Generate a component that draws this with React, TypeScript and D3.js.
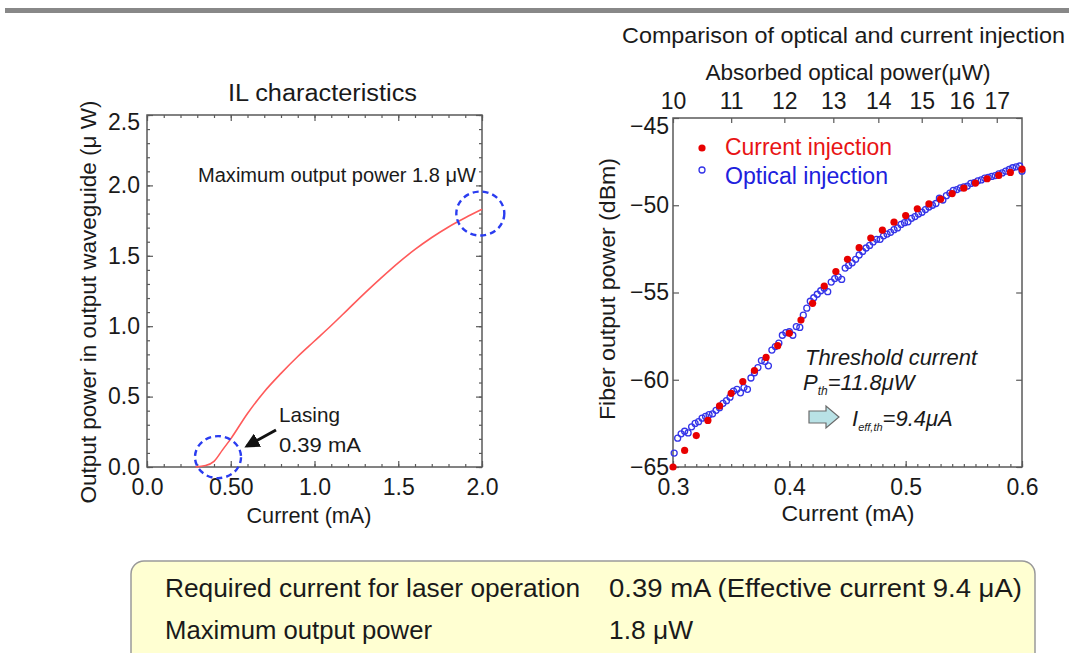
import React, { useEffect, useRef } from 'react'
import * as d3 from 'd3'

// IL curve (left)
const ilCurrent = [0.29, 0.35, 0.40, 0.45, 0.50, 0.60, 0.70, 0.80, 0.90, 1.00, 1.10, 1.20, 1.30, 1.40, 1.50, 1.60, 1.70, 1.80, 1.90, 2.00]
const ilPower = [0.0, 0.01, 0.04, 0.12, 0.20, 0.38, 0.535, 0.665, 0.785, 0.895, 1.005, 1.12, 1.235, 1.345, 1.45, 1.545, 1.63, 1.705, 1.77, 1.83]
const leftXTicks = [0, 0.5, 1.0, 1.5, 2.0]
const leftXTickLabels = ['0.0', '0.50', '1.0', '1.5', '2.0']
const leftYTicks = [0, 0.5, 1.0, 1.5, 2.0, 2.5]
const leftYTickLabels = ['0.0', '0.5', '1.0', '1.5', '2.0', '2.5']
const lasingSpot = [0.424, 0.07]
const maxSpot = [1.99, 1.80]

// current injection (red dots)
const currentInjX = [0.30, 0.31, 0.32, 0.33, 0.34, 0.35, 0.36, 0.37, 0.38, 0.39, 0.40, 0.41, 0.42, 0.43, 0.44, 0.45, 0.46, 0.47, 0.48, 0.49, 0.50, 0.51, 0.52, 0.53, 0.54, 0.55, 0.56, 0.57, 0.58, 0.59, 0.60]
const currentInjDbm = [-65.0, -64.05, -63.2, -62.33, -61.5, -60.78, -60.1, -59.47, -58.72, -58.05, -57.34, -56.58, -55.62, -54.63, -53.8, -53.1, -52.43, -51.88, -51.43, -50.97, -50.59, -50.2, -49.92, -49.65, -49.33, -49.02, -48.73, -48.48, -48.29, -48.12, -47.93]

// optical injection (blue open circles)
const opticalInjX = [0.301, 0.304, 0.307, 0.310, 0.313, 0.316, 0.319, 0.322, 0.325, 0.328, 0.331, 0.334, 0.337, 0.340, 0.343, 0.346, 0.349, 0.352, 0.355, 0.358, 0.361, 0.364, 0.367, 0.370, 0.373, 0.376, 0.379, 0.382, 0.385, 0.388, 0.391, 0.394, 0.397, 0.400, 0.403, 0.406, 0.409, 0.412, 0.415, 0.418, 0.421, 0.424, 0.427, 0.430, 0.433, 0.436, 0.439, 0.442, 0.445, 0.448, 0.451, 0.454, 0.457, 0.460, 0.463, 0.466, 0.469, 0.472, 0.475, 0.478, 0.481, 0.484, 0.487, 0.490, 0.493, 0.496, 0.499, 0.502, 0.505, 0.508, 0.511, 0.514, 0.517, 0.520, 0.523, 0.526, 0.529, 0.532, 0.535, 0.538, 0.541, 0.544, 0.547, 0.550, 0.553, 0.556, 0.559, 0.562, 0.565, 0.568, 0.571, 0.574, 0.577, 0.580, 0.583, 0.586, 0.589, 0.592, 0.595, 0.598, 0.600]
const opticalInjDbm = [-64.2, -63.35, -63.1, -62.95, -63.05, -62.7, -62.5, -62.4, -62.2, -62.1, -62.0, -61.95, -61.75, -61.6, -61.35, -61.2, -61.0, -60.65, -60.55, -60.75, -60.45, -60.55, -59.9, -59.6, -59.3, -58.9, -58.95, -59.2, -58.3, -58.1, -57.9, -57.45, -57.3, -57.25, -57.45, -56.95, -57.0, -56.3, -55.9, -55.5, -55.3, -55.1, -54.9, -54.75, -54.95, -54.4, -54.2, -54.1, -54.25, -53.6, -53.45, -53.3, -53.1, -52.85, -52.65, -52.45, -52.3, -52.1, -51.95, -51.95, -51.75, -51.65, -51.55, -51.4, -51.3, -51.1, -51.0, -50.95, -50.75, -50.65, -50.5, -50.4, -50.25, -50.1, -50.0, -49.9, -49.6, -49.7, -49.45, -49.3, -49.15, -49.1, -49.0, -48.95, -48.9, -48.75, -48.7, -48.6, -48.55, -48.45, -48.4, -48.35, -48.3, -48.2, -48.15, -48.05, -47.95, -47.85, -47.8, -47.75, -48.05]

const rightXTicks = [0.3, 0.4, 0.5, 0.6]
const rightXTickLabels = ['0.3', '0.4', '0.5', '0.6']
const rightYTicks = [-65, -60, -55, -50, -45]
const rightYTickLabels = ['−65', '−60', '−55', '−50', '−45']
const absorbedTicks = [10, 11, 12, 13, 14, 15, 16, 17]
const absorbedTickCurrent = [0.30, 0.35, 0.3957, 0.4378, 0.4765, 0.5138, 0.5482, 0.5783]

const FONT = '"Liberation Sans", Arial, sans-serif'
const FRAME = '#5a5a5a'

function App() {
  const ref = useRef<SVGSVGElement>(null)

  useEffect(() => {
    const svg = d3.select(ref.current)
    svg.selectAll('*').remove()

    const defs = svg.append('defs')
    defs.append('marker').attr('id', 'ah').attr('viewBox', '0 0 10 10')
      .attr('refX', 8).attr('refY', 5).attr('markerWidth', 5).attr('markerHeight', 5)
      .attr('orient', 'auto')
      .append('path').attr('d', 'M0,0 L10,5 L0,10 z').attr('fill', '#111')

    svg.append('rect').attr('width', 1069).attr('height', 653).attr('fill', '#fff')
    svg.append('rect').attr('x', 5).attr('y', 8).attr('width', 1064).attr('height', 5).attr('fill', '#888')

    const txt = (x: number, y: number, s: string, size: number, opts: any = {}) => {
      const t = svg.append('text').attr('x', x).attr('y', y).text(s)
        .attr('font-family', FONT).attr('font-size', size)
        .attr('fill', opts.fill || '#1a1a1a')
        .attr('text-anchor', opts.anchor || 'start')
      if (opts.len) t.attr('textLength', opts.len).attr('lengthAdjust', 'spacingAndGlyphs')
      if (opts.italic) t.attr('font-style', 'italic')
      if (opts.rotate) t.attr('transform', `rotate(-90,${x},${y})`)
      return t
    }

    const styleAxis = (g: any) => {
      g.select('.domain').remove()
      g.selectAll('line').attr('stroke', FRAME).attr('stroke-width', 1.2)
      g.selectAll('text').attr('font-family', FONT).attr('font-size', 23).attr('fill', '#1a1a1a')
    }

    // ---------- left chart ----------
    const L = { x0: 147, x1: 482, y0: 115, y1: 467 }
    const xL = d3.scaleLinear().domain([0, 2]).range([L.x0, L.x1])
    const yL = d3.scaleLinear().domain([0, 2.5]).range([L.y1, L.y0])
    const minorLX = d3.range(0, 2.001, 0.1)
    const minorLY = d3.range(0, 2.501, 0.1)

    const addMinor = (axis: any, vals: number[], tr: string) => {
      svg.append('g').attr('transform', tr)
        .call(axis.tickValues(vals).tickSizeInner(-3).tickSizeOuter(0).tickFormat(() => ''))
        .call(styleAxis)
    }
    addMinor(d3.axisBottom(xL), minorLX, `translate(0,${L.y1})`)
    addMinor(d3.axisTop(xL), minorLX, `translate(0,${L.y0})`)
    addMinor(d3.axisLeft(yL), minorLY, `translate(${L.x0},0)`)
    addMinor(d3.axisRight(yL), minorLY, `translate(${L.x1},0)`)

    svg.append('g').attr('transform', `translate(0,${L.y1})`)
      .call(d3.axisBottom(xL).tickValues(leftXTicks).tickSizeInner(-6).tickSizeOuter(0).tickPadding(12)
        .tickFormat((d, i) => leftXTickLabels[i]))
      .call(styleAxis)
    svg.append('g').attr('transform', `translate(0,${L.y0})`)
      .call(d3.axisTop(xL).tickValues(leftXTicks).tickSizeInner(-6).tickSizeOuter(0).tickFormat(() => ''))
      .call(styleAxis)
    const lyAx = svg.append('g').attr('transform', `translate(${L.x0},0)`)
      .call(d3.axisLeft(yL).tickValues(leftYTicks).tickSizeInner(-6).tickSizeOuter(0).tickPadding(7)
        .tickFormat((d, i) => leftYTickLabels[i]))
      .call(styleAxis)
    lyAx.selectAll('text').filter((d: any) => d === 2.5).attr('dy', '0.62em')
    svg.append('g').attr('transform', `translate(${L.x1},0)`)
      .call(d3.axisRight(yL).tickValues(leftYTicks).tickSizeInner(-6).tickSizeOuter(0).tickFormat(() => ''))
      .call(styleAxis)

    svg.append('rect').attr('x', L.x0).attr('y', L.y0).attr('width', L.x1 - L.x0).attr('height', L.y1 - L.y0)
      .attr('fill', 'none').attr('stroke', FRAME).attr('stroke-width', 1.5)

    const ilLine = d3.line<number>().x((d, i) => xL(ilCurrent[i])).y(d => yL(d)).curve(d3.curveMonotoneX)
    svg.append('path').attr('d', ilLine(ilPower)).attr('fill', 'none').attr('stroke', '#ff5a5a').attr('stroke-width', 1.6)

    svg.append('ellipse').attr('cx', xL(lasingSpot[0])).attr('cy', yL(lasingSpot[1])).attr('rx', 23).attr('ry', 21)
      .attr('fill', 'none').attr('stroke', '#2a3cf0').attr('stroke-width', 2.4).attr('stroke-dasharray', '6 4')
    svg.append('ellipse').attr('cx', xL(maxSpot[0])).attr('cy', yL(maxSpot[1])).attr('rx', 24).attr('ry', 22)
      .attr('fill', 'none').attr('stroke', '#2a3cf0').attr('stroke-width', 2.4).attr('stroke-dasharray', '6 4')

    svg.append('line').attr('x1', 276).attr('y1', 430).attr('x2', 247).attr('y2', 446)
      .attr('stroke', '#111').attr('stroke-width', 3).attr('marker-end', 'url(#ah)')

    txt(322.5, 101, 'IL characteristics', 23, { anchor: 'middle', len: 189 })
    txt(198, 182, 'Maximum output power 1.8 μW', 20, { len: 278 })
    txt(279, 422, 'Lasing', 21, { len: 61 })
    txt(279, 452, '0.39 mA', 21, { len: 82 })
    txt(309, 523, 'Current (mA)', 22, { anchor: 'middle', len: 125 })
    txt(96, 302, 'Output power in output waveguide (μ W)', 22, { anchor: 'middle', len: 403, rotate: true })

    // ---------- right chart ----------
    const R = { x0: 673, x1: 1022, y0: 118, y1: 467 }
    const xR = d3.scaleLinear().domain([0.3, 0.6]).range([R.x0, R.x1])
    const yR = d3.scaleLinear().domain([-65, -45]).range([R.y1, R.y0])
    const xAbs = d3.scaleLinear().domain(absorbedTicks).range(absorbedTickCurrent.map(c => xR(c)))

    addMinor(d3.axisBottom(xR), d3.range(0.3, 0.6001, 0.01), `translate(0,${R.y1})`)
    svg.append('g').attr('transform', `translate(0,${R.y1})`)
      .call(d3.axisBottom(xR).tickValues(rightXTicks).tickSizeInner(-6).tickSizeOuter(0).tickPadding(12)
        .tickFormat((d, i) => rightXTickLabels[i]))
      .call(styleAxis)
    const ryAx = svg.append('g').attr('transform', `translate(${R.x0},0)`)
      .call(d3.axisLeft(yR).tickValues(rightYTicks).tickSizeInner(-6).tickSizeOuter(0).tickPadding(4)
        .tickFormat((d, i) => rightYTickLabels[i]))
      .call(styleAxis)
    ryAx.selectAll('text').filter((d: any) => d === -45).attr('dy', '0.66em')
    svg.append('g').attr('transform', `translate(${R.x1},0)`)
      .call(d3.axisRight(yR).tickValues(rightYTicks).tickSizeInner(-6).tickSizeOuter(0).tickFormat(() => ''))
      .call(styleAxis)
    svg.append('g').attr('transform', `translate(0,${R.y0})`)
      .call(d3.axisTop(xAbs).tickValues(absorbedTicks).tickSizeInner(-5).tickSizeOuter(0).tickPadding(9)
        .tickFormat(d3.format('d')))
      .call(styleAxis)

    svg.append('rect').attr('x', R.x0).attr('y', R.y0).attr('width', R.x1 - R.x0).attr('height', R.y1 - R.y0)
      .attr('fill', 'none').attr('stroke', FRAME).attr('stroke-width', 1.5)

    svg.append('g').selectAll('circle').data(opticalInjDbm).enter().append('circle')
      .attr('cx', (d, i) => xR(opticalInjX[i])).attr('cy', d => yR(d)).attr('r', 3)
      .attr('fill', 'none').attr('stroke', '#3434e8').attr('stroke-width', 1.3)
    svg.append('g').selectAll('circle').data(currentInjDbm).enter().append('circle')
      .attr('cx', (d, i) => xR(currentInjX[i])).attr('cy', d => yR(d)).attr('r', 3.6)
      .attr('fill', '#e80000')

    // legend
    svg.append('circle').attr('cx', 702).attr('cy', 148).attr('r', 3.6).attr('fill', '#e80000')
    txt(725, 155, 'Current injection', 23, { fill: '#e81414', len: 167 })
    svg.append('circle').attr('cx', 702).attr('cy', 170).attr('r', 3).attr('fill', 'none').attr('stroke', '#3434e8').attr('stroke-width', 1.3)
    txt(725, 184, 'Optical injection', 23, { fill: '#2020dd', len: 163 })

    // threshold annotation
    txt(805, 365, 'Threshold current', 22, { italic: true, len: 172 })
    const pth = svg.append('text').attr('x', 803).attr('y', 390).attr('font-family', FONT)
      .attr('font-style', 'italic').attr('fill', '#1a1a1a').attr('font-size', 22)
    pth.append('tspan').text('P')
    pth.append('tspan').text('th').attr('font-size', 12).attr('dy', 5)
    pth.append('tspan').text('=11.8μW').attr('dy', -5)
    svg.append('path').attr('d', 'M809,411 L826,411 L826,406 L839,417 L826,428 L826,423 L809,423 Z')
      .attr('fill', '#b9e2e6').attr('stroke', '#6a6a6a').attr('stroke-width', 1.2)
    const ieff = svg.append('text').attr('x', 852).attr('y', 426).attr('font-family', FONT)
      .attr('font-style', 'italic').attr('fill', '#1a1a1a').attr('font-size', 22)
    ieff.append('tspan').text('I')
    ieff.append('tspan').text('eff,th').attr('font-size', 11).attr('dy', 5)
    ieff.append('tspan').text('=9.4μA').attr('dy', -5)

    txt(622, 43, 'Comparison of optical and current injection', 22, { len: 443 })
    txt(848, 80, 'Absorbed optical power(μW)', 22, { anchor: 'middle', len: 285 })
    txt(848, 521, 'Current (mA)', 22, { anchor: 'middle', len: 133 })
    txt(615, 289, 'Fiber output power (dBm)', 22, { anchor: 'middle', len: 262, rotate: true })

    // ---------- summary box ----------
    svg.append('rect').attr('x', 131).attr('y', 561).attr('width', 904).attr('height', 110).attr('rx', 13)
      .attr('fill', '#ffffd2').attr('stroke', '#9a9a9a').attr('stroke-width', 1.5)
    txt(165, 597, 'Required current for laser operation', 25, { len: 415 })
    txt(609, 597, '0.39 mA (Effective current 9.4 μA)', 25, { len: 413 })
    txt(165, 639, 'Maximum output power', 25, { len: 267 })
    txt(609, 639, '1.8 μW', 25, { len: 84 })
  }, [])

  return (
    <svg ref={ref} width={1069} height={653} style={{ position: 'absolute', left: 0, top: 0 }} />
  )
}

export default App
